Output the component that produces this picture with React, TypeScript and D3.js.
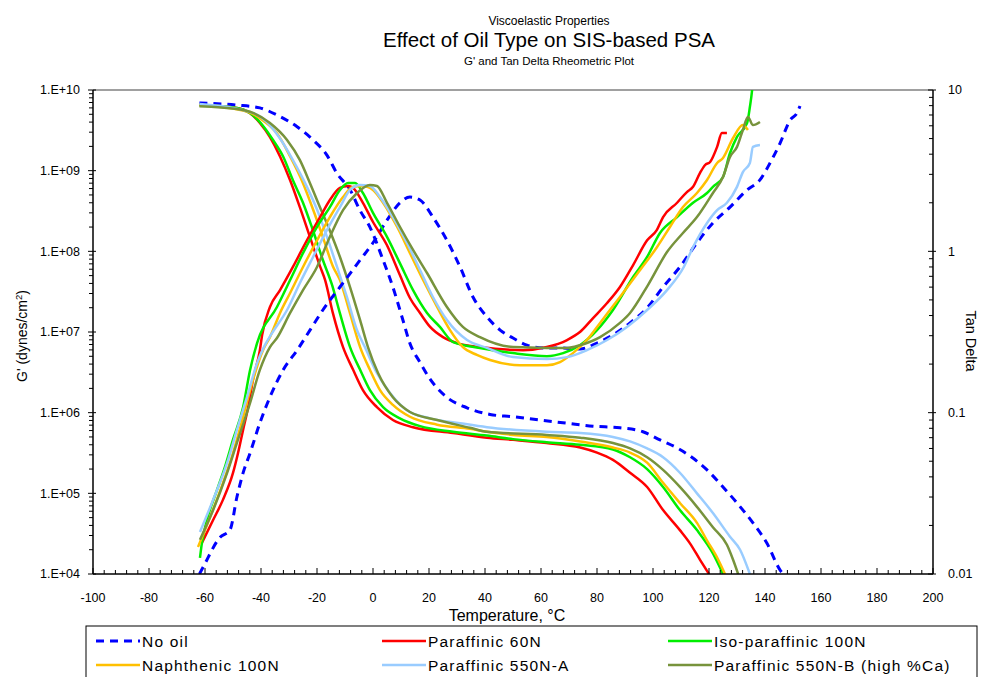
import React from 'react';
import * as d3 from 'd3';

type Pt = [number, number];

// series, in legend order
const seriesNames = [
  'No oil',
  'Paraffinic 60N',
  'Iso-paraffinic 100N',
  'Naphthenic 100N',
  'Paraffinic 550N-A',
  'Paraffinic 550N-B (high %Ca)',
];
const seriesColors = ['#0000FF', '#FF0000', '#00EE00', '#FFC000', '#99CCFF', '#77933C'];

// G' (dynes/cm2) vs temperature (C)
const noOilG: Pt[] = [[-62,6.9e9],[-48.6,6.5e9],[-40.4,6.0e9],[-34.3,4.9e9],[-27.1,3.5e9],[-21.4,2.4e9],[-16.4,1.55e9],[-12.9,9.3e8],[-8.2,5.8e8],[-4.6,3.2e8],[-1.1,2.0e8],[3.6,7.8e7],[7.1,3.6e7],[10.7,1.4e7],[13.2,7.2e6],[16.8,4.2e6],[20.4,2.6e6],[26.4,1.55e6],[33.6,1.15e6],[41.8,9.5e5],[50,8.9e5],[59.6,8.1e5],[69.3,7.4e5],[78.6,6.8e5],[88.2,6.5e5],[96.4,5.8e5],[102.5,4.6e5],[109.6,3.5e5],[119.3,1.95e5],[125,1.2e5],[130,7.6e4],[135.7,4.3e4],[140.7,2.4e4],[145.4,1.12e4],[146.5,1.0e4]];
const par60G: Pt[] = [[-62,6.5e9],[-48.6,6.0e9],[-44,5.2e9],[-40.4,3.9e9],[-36.8,2.6e9],[-33.2,1.5e9],[-29.6,7.6e8],[-26.1,3.5e8],[-22.5,1.5e8],[-18.9,6.5e7],[-17.1,4.4e7],[-14.3,1.7e7],[-10.7,6.5e6],[-7.1,3.4e6],[-3.6,1.9e6],[1.4,1.17e6],[7.1,8.1e5],[14.3,6.6e5],[28.6,5.6e5],[40.7,4.9e5],[50,4.6e5],[62,4.2e5],[74,3.7e5],[80,3.2e5],[85.7,2.6e5],[91.8,1.8e5],[97.9,1.2e5],[103.6,6.2e4],[109.6,3.5e4],[113.2,2.4e4],[116.8,1.5e4],[120,1.0e4]];
const iso100G: Pt[] = [[-62,6.5e9],[-48.6,6.0e9],[-44,5.2e9],[-40.4,4.0e9],[-35.7,2.4e9],[-32.1,1.5e9],[-28.6,7.6e8],[-25,4.0e8],[-21.4,1.8e8],[-17.9,7.8e7],[-14.6,3.8e7],[-11.8,1.7e7],[-8.2,6.5e6],[-4.6,3.4e6],[-1.1,1.9e6],[3.6,1.17e6],[9.6,8.5e5],[16.8,6.8e5],[28.6,5.8e5],[40.7,5.2e5],[50,4.7e5],[62,4.3e5],[74,4.0e5],[85.7,3.5e5],[91.8,2.8e5],[97.9,2.0e5],[103.6,1.2e5],[109.6,6.2e4],[115.7,3.5e4],[121.4,1.8e4],[125,1.0e4]];
const naph100G: Pt[] = [[-62,6.5e9],[-45,5.4e9],[-39.3,4.2e9],[-34.3,2.9e9],[-29.6,1.5e9],[-25,7.0e8],[-21.4,3.3e8],[-17.9,1.5e8],[-14.3,6.5e7],[-11.8,4.4e7],[-8.2,1.7e7],[-4.6,6.5e6],[-1.1,3.4e6],[2.5,1.9e6],[7.1,1.25e6],[13.2,8.9e5],[22.9,7.1e5],[34.6,6.3e5],[40.7,5.8e5],[50,5.3e5],[62,5.0e5],[74,4.4e5],[85.7,3.7e5],[91.8,3.2e5],[97.9,2.4e5],[103.6,1.35e5],[109.6,7.6e4],[115.7,4.3e4],[119.3,2.6e4],[122.9,1.6e4],[125.7,1.0e4]];
const par550AG: Pt[] = [[-62,6.7e9],[-42.9,5.2e9],[-37.9,4.0e9],[-33.2,2.5e9],[-28.6,1.35e9],[-23.6,6.3e8],[-20,3.3e8],[-16.4,1.5e8],[-12.9,6.5e7],[-9.3,2.7e7],[-5.7,1.05e7],[-2.9,6.5e6],[1.4,3.1e6],[6.1,1.75e6],[12.1,1.07e6],[20.4,8.5e5],[31.1,7.4e5],[40.7,6.6e5],[62,5.8e5],[74,5.6e5],[85.7,5.0e5],[91.8,4.4e5],[97.9,3.6e5],[103.6,2.8e5],[109.6,1.8e5],[115.7,1.0e5],[121.4,5.7e4],[127.5,2.9e4],[131.1,2.0e4],[134.6,1.0e4]];
const par550BG: Pt[] = [[-62,6.3e9],[-48.6,5.8e9],[-42.9,5.2e9],[-36.8,3.9e9],[-30.7,2.4e9],[-26.1,1.35e9],[-22.5,7.0e8],[-18.9,3.5e8],[-15.4,1.8e8],[-11.8,8.5e7],[-8.2,3.6e7],[-4.6,1.4e7],[-1.8,6.5e6],[1.8,3.1e6],[7.1,1.55e6],[13.2,1.02e6],[22.9,8.1e5],[34.6,6.5e5],[40.7,5.8e5],[62,5.3e5],[74,4.9e5],[85.7,4.2e5],[91.8,3.6e5],[97.9,2.8e5],[103.6,1.95e5],[109.6,1.2e5],[115.7,6.8e4],[121.4,3.8e4],[126.4,2.3e4],[128.6,1.5e4],[130.4,1.0e4]];

// tan delta vs temperature (C)
const noOilTan: Pt[] = [[-62,0.0100],[-60.7,0.011],[-54.6,0.0169],[-51.1,0.0187],[-48.6,0.030],[-46.4,0.0423],[-43.9,0.0562],[-40.4,0.0863],[-36.8,0.125],[-32.1,0.184],[-27.1,0.244],[-22.5,0.325],[-17.9,0.433],[-11.8,0.601],[-4.6,0.883],[0,1.13],[5,1.56],[9.6,2.0],[13.2,2.17],[16.8,2.08],[21.4,1.63],[26.4,1.17],[31.1,0.80],[35.7,0.521],[40.7,0.392],[45.4,0.325],[50,0.290],[55,0.262],[60.7,0.252],[67.9,0.252],[73.9,0.248],[80,0.270],[85.7,0.303],[91.8,0.360],[97.9,0.446],[103.6,0.601],[109.6,0.80],[115.7,1.13],[121.4,1.50],[127.5,1.88],[133.6,2.40],[138.2,2.77],[141.8,3.53],[145.4,4.69],[149,6.52],[151.4,7.19],[152.5,7.96]];
const par60Tan: Pt[] = [[-61.1,0.0156],[-57.1,0.0216],[-53.6,0.0288],[-50,0.0423],[-48.2,0.0562],[-46.4,0.0782],[-44.6,0.108],[-42.9,0.159],[-40.4,0.244],[-39.6,0.303],[-36.8,0.452],[-33.2,0.575],[-28.6,0.80],[-23.6,1.17],[-18.9,1.63],[-15.4,2.08],[-11.8,2.47],[-8.9,2.54],[-7.1,2.47],[-3.6,2.0],[0,1.52],[5,1.09],[9.6,0.713],[13.2,0.514],[16.8,0.415],[20.4,0.340],[25,0.294],[30,0.270],[38.2,0.255],[53.6,0.244],[62.1,0.255],[69.3,0.282],[73.9,0.316],[78.6,0.386],[83.6,0.478],[88.2,0.601],[92.9,0.822],[97.9,1.17],[101.4,1.36],[103.6,1.63],[108.6,2.0],[112.1,2.33],[114.3,2.51],[116.8,3.06],[118.6,3.43],[120.4,3.58],[122.9,4.44],[124.6,5.41],[126.4,5.41]];
const iso100Tan: Pt[] = [[-61.8,0.0126],[-61.1,0.0156],[-59.3,0.0216],[-55.7,0.0332],[-52.9,0.046],[-50,0.068],[-46.4,0.108],[-43.9,0.184],[-41.4,0.27],[-34.3,0.452],[-29.6,0.664],[-25,0.975],[-20,1.42],[-15.4,1.88],[-11.8,2.40],[-8.9,2.65],[-6.4,2.65],[-3.6,2.30],[0,1.73],[5,1.23],[9.6,0.845],[14.3,0.575],[19.3,0.415],[23.9,0.340],[28.6,0.274],[38.2,0.252],[50,0.234],[62.1,0.224],[67.9,0.234],[73.9,0.262],[80,0.325],[85.7,0.433],[92.9,0.693],[97.9,0.923],[102.5,1.30],[108.6,1.63],[114.3,2.0],[119.3,2.30],[121.4,2.51],[125,2.89],[127.5,4.07],[130,5.12],[133.6,6.24],[134.6,7.85],[135.4,10.0],[135.8,12.0]];
const naph100Tan: Pt[] = [[-62.5,0.0147],[-58.2,0.0225],[-53.6,0.0366],[-50,0.0562],[-46.4,0.094],[-42.9,0.159],[-39.3,0.244],[-36.8,0.294],[-33.2,0.415],[-29.6,0.552],[-25,0.80],[-20,1.17],[-15.4,1.63],[-10.7,2.17],[-7.1,2.51],[-3.6,2.54],[0,2.40],[3.6,2.0],[8.6,1.42],[13.2,0.975],[17.9,0.664],[22.9,0.452],[27.5,0.325],[32.1,0.255],[37.1,0.228],[41.8,0.212],[52.5,0.197],[62.1,0.197],[66.8,0.206],[71.4,0.234],[76.4,0.282],[81.1,0.360],[88.2,0.521],[95.4,0.766],[101.4,1.06],[106.1,1.42],[110.7,1.88],[115.7,2.30],[119.3,2.77],[122.9,3.53],[125,3.79],[128.6,5.04],[132.1,6.07],[133.9,5.65]];
const par550ATan: Pt[] = [[-61.8,0.0182],[-57.1,0.0288],[-52.1,0.0488],[-48.6,0.0782],[-45,0.125],[-41.4,0.203],[-38.6,0.262],[-36,0.312],[-30.7,0.433],[-26.1,0.637],[-21.4,0.923],[-16.4,1.36],[-11.8,1.88],[-8.2,2.40],[-4.6,2.58],[-1.1,2.54],[2.5,2.17],[7.1,1.63],[12.1,1.13],[16.8,0.766],[21.4,0.521],[26.4,0.375],[33.6,0.282],[40.7,0.252],[50,0.221],[62.1,0.215],[69.3,0.221],[76.4,0.244],[83.6,0.282],[90.7,0.340],[97.9,0.433],[105,0.575],[111,0.80],[114.3,1.06],[119.3,1.50],[122.9,1.80],[126.4,2.0],[130,2.51],[132.1,3.10],[134.6,3.53],[135.7,4.44],[138.2,4.56]];
const par550BTan: Pt[] = [[-61.8,0.0163],[-57.1,0.0249],[-52.1,0.0423],[-48.6,0.0649],[-43.9,0.115],[-40.4,0.184],[-36.8,0.255],[-34.3,0.290],[-29.6,0.415],[-25,0.575],[-20,0.80],[-15.4,1.23],[-10.7,1.80],[-5.7,2.30],[-1.1,2.58],[1.4,2.54],[5,2.0],[9.6,1.42],[14.3,1.02],[19.3,0.734],[26.4,0.452],[32.1,0.340],[38.2,0.294],[50,0.255],[62.1,0.252],[69.3,0.252],[73.9,0.262],[81.1,0.294],[88.2,0.360],[91.8,0.415],[98.2,0.618],[105,0.99],[110.7,1.30],[115.7,1.63],[121.4,2.30],[125,2.89],[127.5,3.85],[130,4.44],[132.1,5.65],[133.9,6.81],[135.7,6.07],[138.2,6.34]];

const gSeries = [noOilG, par60G, iso100G, naph100G, par550AG, par550BG];
const tanSeries = [noOilTan, par60Tan, iso100Tan, naph100Tan, par550ATan, par550BTan];

// axes
const xTickValues = d3.range(-100, 201, 20);
const leftTickValues = [1e4, 1e5, 1e6, 1e7, 1e8, 1e9, 1e10];
const leftTickLabels = ['1.E+04', '1.E+05', '1.E+06', '1.E+07', '1.E+08', '1.E+09', '1.E+10'];
const rightTickValues = [0.01, 0.1, 1, 10];
const rightTickLabels = ['0.01', '0.1', '1', '10'];

const FONT = '"Liberation Sans", Arial, sans-serif';

export default function App() {
  const W = 981, H = 677;
  const L = 93, R = 933, T = 90, B = 574;

  const x = d3.scaleLinear().domain([-100, 200]).range([L, R]);
  const yG = d3.scaleLog().domain([1e4, 1e10]).range([B, T]);
  const yT = d3.scaleLog().domain([0.01, 10]).range([B, T]);

  const lineG = d3.line<Pt>().x(d => x(d[0])).y(d => yG(d[1])).curve(d3.curveMonotoneX);
  const lineT = d3.line<Pt>().x(d => x(d[0])).y(d => yT(d[1])).curve(d3.curveMonotoneX);

  const xMinor = d3.range(-100, 201, 4);
  const gMinor: number[] = [];
  for (let e = 4; e < 10; e++) for (let k = 2; k < 10; k++) gMinor.push(k * Math.pow(10, e));
  const tMinor: number[] = [];
  for (let e = -2; e < 1; e++) for (let k = 2; k < 10; k++) tMinor.push(k * Math.pow(10, e));

  const legendCols = [96, 382, 668];
  const legendRows = [641, 665];

  return (
    <svg width={W} height={H} style={{ position: 'absolute', left: 0, top: 0, background: '#fff' }}
      fontFamily={FONT}>
      <defs>
        <clipPath id="plotClip">
          <rect x={L} y={T} width={R - L} height={B - T} />
        </clipPath>
      </defs>

      {/* titles */}
      <text x={549} y={25} textAnchor="middle" fontSize={12}>Viscoelastic Properties</text>
      <text x={549} y={47} textAnchor="middle" fontSize={20.5}>Effect of Oil Type on SIS-based PSA</text>
      <text x={549} y={65} textAnchor="middle" fontSize={11.5}>G' and Tan Delta Rheometric Plot</text>

      {/* plot frame */}
      <line x1={L} x2={R} y1={T} y2={T} stroke="#808080" strokeWidth={1.5} />

      {/* curves */}
      <g clipPath="url(#plotClip)" fill="none" strokeLinejoin="round">
        {gSeries.map((s, i) => (
          <path key={'g' + i} d={lineG(s) || ''} stroke={seriesColors[i]}
            strokeWidth={i === 0 ? 3 : 2.5} strokeDasharray={i === 0 ? '8,6' : undefined} />
        ))}
        {tanSeries.map((s, i) => (
          <path key={'t' + i} d={lineT(s) || ''} stroke={seriesColors[i]}
            strokeWidth={i === 0 ? 3 : 2.5} strokeDasharray={i === 0 ? '8,6' : undefined} />
        ))}
      </g>

      {/* left axis */}
      <g stroke="#000" strokeWidth={1}>
        <line x1={L} x2={L} y1={T} y2={B} strokeWidth={1.5} />
        {leftTickValues.map(v => <line key={v} x1={L - 5} x2={L + 3} y1={yG(v)} y2={yG(v)} />)}
        {gMinor.map(v => <line key={v} x1={L - 4} x2={L} y1={yG(v)} y2={yG(v)} />)}
      </g>
      {leftTickValues.map((v, i) => (
        <text key={v} x={80} y={yG(v)} dy="0.35em" textAnchor="end" fontSize={12.5}>{leftTickLabels[i]}</text>
      ))}

      {/* right axis */}
      <g stroke="#000" strokeWidth={1}>
        <line x1={R} x2={R} y1={T} y2={B} strokeWidth={1.5} />
        {rightTickValues.map(v => <line key={v} x1={R - 5} x2={R + 3} y1={yT(v)} y2={yT(v)} />)}
        {tMinor.map(v => <line key={v} x1={R - 4} x2={R} y1={yT(v)} y2={yT(v)} />)}
      </g>
      {rightTickValues.map((v, i) => (
        <text key={v} x={948} y={yT(v)} dy="0.35em" textAnchor="start" fontSize={12.5}>{rightTickLabels[i]}</text>
      ))}

      {/* bottom axis */}
      <g stroke="#000" strokeWidth={1}>
        <line x1={L} x2={R} y1={B} y2={B} strokeWidth={1.5} />
        {xMinor.map(v => <line key={v} x1={x(v)} x2={x(v)} y1={B - (v % 20 === 0 ? 6 : 4)} y2={B} />)}
      </g>
      {xTickValues.map(v => (
        <text key={v} x={x(v)} y={602} textAnchor="middle" fontSize={12.5}>{v}</text>
      ))}

      {/* axis titles */}
      <text x={507} y={621} textAnchor="middle" fontSize={16}>Temperature, °C</text>
      <text transform="translate(27,336) rotate(-90)" textAnchor="middle" fontSize={14}>
        G' (dynes/cm<tspan baselineShift="super" fontSize={9.5}>2</tspan>)
      </text>
      <text transform="translate(966,341) rotate(90)" textAnchor="middle" fontSize={14.5}>Tan Delta</text>

      {/* legend */}
      <rect x={86} y={626} width={891} height={70} fill="#fff" stroke="#000" strokeWidth={1} />
      {seriesNames.map((name, i) => {
        const cx = legendCols[i % 3];
        const cy = legendRows[Math.floor(i / 3)];
        return (
          <g key={name}>
            <line x1={cx} x2={cx + 44} y1={cy} y2={cy} stroke={seriesColors[i]}
              strokeWidth={i === 0 ? 3 : 2.5} strokeDasharray={i === 0 ? '8,6' : undefined} />
            <text x={cx + 46} y={cy} dy="0.36em" fontSize={15.5} letterSpacing={1.2}>{name}</text>
          </g>
        );
      })}
    </svg>
  );
}
